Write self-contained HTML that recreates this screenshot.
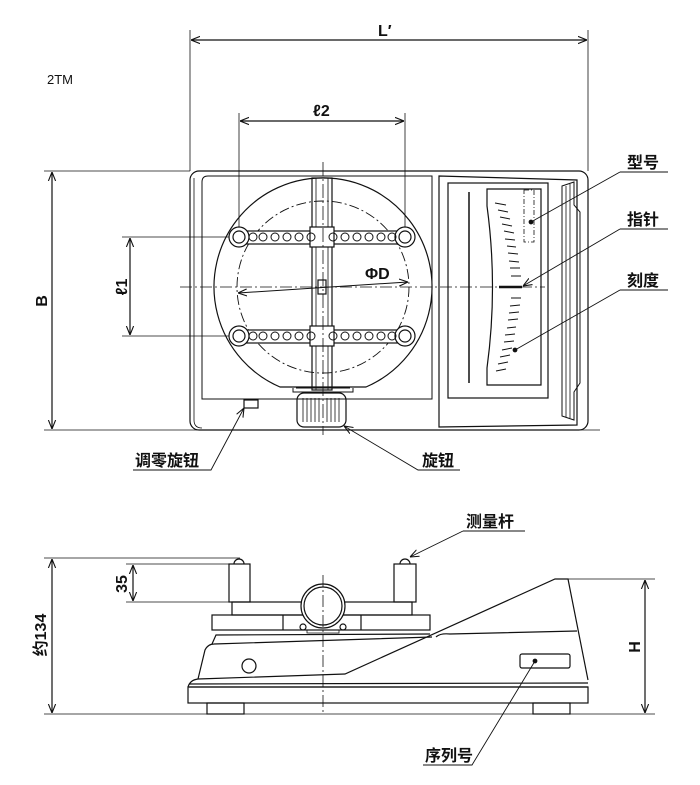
<!DOCTYPE html>
<html><head><meta charset="utf-8"><style>
html,body{margin:0;padding:0;background:#fff;}
svg{display:block}
text{font-family:"Liberation Sans","Noto Sans CJK SC",sans-serif;fill:#111}
.b{font-weight:bold;font-size:16px}
</style></head><body>
<svg width="700" height="785" viewBox="0 0 700 785" xmlns="http://www.w3.org/2000/svg">
<defs>
<marker id="a" viewBox="0 0 10 10" refX="10" refY="5" markerWidth="9" markerHeight="9" orient="auto-start-reverse" markerUnits="userSpaceOnUse"><path d="M0,1 L10,5 L0,9" fill="none" stroke="#111" stroke-width="1.2"/></marker>
</defs>
<g stroke="#111" fill="none" stroke-width="1.2">
<line x1="190" y1="30" x2="190" y2="171" stroke-width="0.8"/>
<line x1="588" y1="30" x2="588" y2="171" stroke-width="0.8"/>
<line x1="191" y1="40" x2="587" y2="40" marker-start="url(#a)" marker-end="url(#a)"/>
<line x1="239" y1="113" x2="239" y2="237" stroke-width="0.8"/>
<line x1="405" y1="113" x2="405" y2="237" stroke-width="0.8"/>
<line x1="240" y1="121" x2="404" y2="121" marker-start="url(#a)" marker-end="url(#a)"/>
<line x1="44" y1="171" x2="190" y2="171" stroke-width="0.8"/>
<line x1="44" y1="430" x2="600" y2="430" stroke-width="0.8"/>
<line x1="52" y1="172" x2="52" y2="429" marker-start="url(#a)" marker-end="url(#a)"/>
<line x1="122" y1="237" x2="239" y2="237" stroke-width="0.8"/>
<line x1="122" y1="336" x2="239" y2="336" stroke-width="0.8"/>
<line x1="130" y1="238" x2="130" y2="335" marker-start="url(#a)" marker-end="url(#a)"/>
<rect x="190" y="171" width="398" height="259" rx="9"/>
<path d="M202,399 L202,182 Q202,176 208,176 L432,176 L432,399 Z" stroke-width="1"/>
<path d="M194,178 L194,420 Q194,428 202,428" stroke-width="0.8"/>
<rect x="244" y="400" width="14" height="8"/>
<path d="M280,387 A109,109 0 1 1 366,387 Z"/>
<circle cx="323" cy="287" r="86" stroke-dasharray="10,3,2,3" stroke-width="0.9"/>
<rect x="312" y="178" width="20" height="212"/>
<line x1="316" y1="178" x2="316" y2="390" stroke-width="0.8"/>
<line x1="328" y1="178" x2="328" y2="390" stroke-width="0.8"/>
<rect x="318" y="280" width="8" height="14"/>
<g>
<rect x="239" y="231" width="166" height="13" fill="#fff"/>
<rect x="310" y="227" width="24" height="20" fill="#fff"/>
<rect x="239" y="330" width="166" height="13" fill="#fff"/>
<rect x="310" y="326" width="24" height="20" fill="#fff"/>
<circle cx="239" cy="237" r="10" fill="#fff"/><circle cx="239" cy="237" r="6"/>
<circle cx="405" cy="237" r="10" fill="#fff"/><circle cx="405" cy="237" r="6"/>
<circle cx="239" cy="336" r="10" fill="#fff"/><circle cx="239" cy="336" r="6"/>
<circle cx="405" cy="336" r="10" fill="#fff"/><circle cx="405" cy="336" r="6"/>
<g stroke-width="1">
<circle cx="253" cy="237" r="4"/><circle cx="263" cy="237" r="4"/><circle cx="275" cy="237" r="4"/><circle cx="287" cy="237" r="4"/><circle cx="299" cy="237" r="4"/><circle cx="311" cy="237" r="4"/>
<circle cx="333" cy="237" r="4"/><circle cx="345" cy="237" r="4"/><circle cx="357" cy="237" r="4"/><circle cx="369" cy="237" r="4"/><circle cx="381" cy="237" r="4"/><circle cx="392" cy="237" r="4"/>
<circle cx="253" cy="336" r="4"/><circle cx="263" cy="336" r="4"/><circle cx="275" cy="336" r="4"/><circle cx="287" cy="336" r="4"/><circle cx="299" cy="336" r="4"/><circle cx="311" cy="336" r="4"/>
<circle cx="333" cy="336" r="4"/><circle cx="345" cy="336" r="4"/><circle cx="357" cy="336" r="4"/><circle cx="369" cy="336" r="4"/><circle cx="381" cy="336" r="4"/><circle cx="392" cy="336" r="4"/>
</g>
</g>
<line x1="180" y1="287" x2="545" y2="287" stroke-width="0.8" stroke-dasharray="12,3,2,3"/>
<line x1="323" y1="162" x2="323" y2="435" stroke-width="0.8" stroke-dasharray="14,3,2,3"/>
<line x1="238" y1="293" x2="408" y2="282" stroke-width="1" marker-start="url(#a)" marker-end="url(#a)"/>
<path d="M296,388 L350,388 M293,388 L293,392 L353,392 L353,388" stroke-width="1"/>
<rect x="297" y="393" width="49" height="34" rx="7"/>
<g stroke-width="0.8"><line x1="303" y1="398" x2="303" y2="422"/><line x1="307" y1="398" x2="307" y2="422"/><line x1="311" y1="398" x2="311" y2="422"/><line x1="315" y1="398" x2="315" y2="422"/><line x1="319" y1="398" x2="319" y2="422"/><line x1="327" y1="398" x2="327" y2="422"/><line x1="331" y1="398" x2="331" y2="422"/><line x1="335" y1="398" x2="335" y2="422"/><line x1="339" y1="398" x2="339" y2="422"/></g>
<path d="M439,176 L577,180 L577,425 L439,427 Z"/>
<rect x="448" y="183" width="100" height="215"/>
<line x1="469" y1="192" x2="469" y2="383" stroke-width="1.5"/>
<path d="M487,189 L541,189 L541,385 L487,385 L487,368 Q498,287 487,206 Z"/>
<rect x="524" y="190" width="10" height="52" stroke-dasharray="5,2,1,2" stroke-width="0.8"/>
<g stroke-width="1">
<line x1="495" y1="203" x2="506" y2="205"/><line x1="498" y1="210" x2="508" y2="212"/><line x1="500" y1="217" x2="510" y2="219"/><line x1="502" y1="224" x2="512" y2="226"/><line x1="504" y1="231" x2="514" y2="233"/><line x1="505" y1="239" x2="515" y2="240"/><line x1="507" y1="246" x2="516" y2="247"/><line x1="508" y1="253" x2="518" y2="254"/><line x1="509" y1="261" x2="519" y2="262"/><line x1="510" y1="268" x2="520" y2="268"/><line x1="511" y1="276" x2="521" y2="276"/>
<line x1="511" y1="298" x2="521" y2="298"/><line x1="510" y1="306" x2="520" y2="305"/><line x1="509" y1="313" x2="519" y2="312"/><line x1="508" y1="320" x2="518" y2="319"/><line x1="507" y1="328" x2="516" y2="327"/><line x1="505" y1="335" x2="515" y2="334"/><line x1="504" y1="342" x2="514" y2="341"/><line x1="502" y1="350" x2="512" y2="348"/><line x1="500" y1="357" x2="510" y2="355"/><line x1="498" y1="364" x2="508" y2="362"/><line x1="496" y1="371" x2="506" y2="369"/>
</g>
<line x1="499" y1="287" x2="522" y2="287" stroke-width="2.5"/>
<path d="M562,186 L574,182 L574,205 L580,212 L580,383 L574,392 L574,420 L562,416 Z" stroke-width="1"/>
<line x1="566" y1="186" x2="566" y2="417" stroke-width="0.8"/><line x1="570" y1="184" x2="570" y2="418" stroke-width="0.8"/>
<path d="M620,172 L668,172 M620,172 L531,222" stroke-width="0.9"/><circle cx="531" cy="222" r="1.8" fill="#111"/>
<path d="M620,229 L668,229 M620,229 L523,286" stroke-width="0.9" marker-end="url(#a)"/>
<path d="M620,290 L668,290 M620,290 L515,350" stroke-width="0.9"/><circle cx="515" cy="350" r="1.8" fill="#111"/>
<path d="M133,470 L211,470 L244,408" stroke-width="0.9" marker-end="url(#a)"/>
<path d="M460,470 L418,470 L344,426" stroke-width="0.9" marker-end="url(#a)"/>
<path d="M463,531 L525,531 M463,531 L410,557" stroke-width="0.9" marker-end="url(#a)"/>
<path d="M423,765 L472,765 L535,661" stroke-width="0.9"/><circle cx="535" cy="661" r="1.8" fill="#111"/>
<line x1="44" y1="558" x2="240" y2="558" stroke-width="0.8"/>
<line x1="44" y1="714" x2="655" y2="714" stroke-width="0.8"/>
<line x1="52" y1="559" x2="52" y2="713" marker-start="url(#a)" marker-end="url(#a)"/>
<line x1="126" y1="564" x2="229" y2="564" stroke-width="0.8"/>
<line x1="126" y1="602" x2="232" y2="602" stroke-width="0.8"/>
<line x1="133" y1="565" x2="133" y2="601" marker-start="url(#a)" marker-end="url(#a)"/>
<line x1="555" y1="579" x2="655" y2="579" stroke-width="0.8"/>
<line x1="645" y1="580" x2="645" y2="713" marker-start="url(#a)" marker-end="url(#a)"/>
<path d="M234,564 A5,5 0 0 1 244,564"/><rect x="229" y="564" width="21" height="38"/>
<path d="M400,564 A5,5 0 0 1 410,564"/><rect x="394" y="564" width="22" height="38"/>
<rect x="232" y="602" width="180" height="13"/>
<rect x="212" y="615" width="218" height="15"/>
<line x1="283" y1="615" x2="283" y2="630"/><line x1="361" y1="615" x2="361" y2="630"/>
<circle cx="323" cy="606" r="22" fill="#fff"/><circle cx="323" cy="606" r="19"/>
<circle cx="303" cy="627" r="3"/><circle cx="343" cy="627" r="3"/>
<path d="M307,630 L339,630 L339,633 L307,633 Z" stroke-width="0.8"/>
<path d="M212,644 L216,635 L430,634 M436,637 Q440,633 450,634 L577,631"/>
<path d="M198,679 L205,650 Q208,644 214,644 L432,637"/>
<path d="M188,687 Q190,680 198,679 L345,674 L555,579 L568,579 L588,680"/>
<path d="M189,684 L588,683 M189,687 L588,687"/>
<rect x="188" y="687" width="400" height="16"/>
<rect x="207" y="703" width="37" height="11"/><rect x="533" y="703" width="37" height="11"/>
<circle cx="249" cy="666" r="7"/>
<rect x="520" y="654" width="50" height="14" rx="2"/>
<line x1="323" y1="575" x2="323" y2="712" stroke-width="0.8" stroke-dasharray="12,3,2,3"/>
</g>
<text x="47" y="84" font-size="13">2TM</text>
<text x="378" y="36" class="b">L′</text>
<text x="313" y="116" class="b">ℓ2</text>
<text x="365" y="279" class="b">ΦD</text>
<text class="b" transform="translate(47,301) rotate(-90)" text-anchor="middle">B</text>
<text class="b" transform="translate(127,287) rotate(-90)" text-anchor="middle">ℓ1</text>
<text class="b" transform="translate(46,635) rotate(-90)" text-anchor="middle">约134</text>
<text class="b" transform="translate(127,584) rotate(-90)" text-anchor="middle">35</text>
<text class="b" transform="translate(640,647) rotate(-90)" text-anchor="middle">H</text>
<text x="627" y="168" class="b">型号</text>
<text x="627" y="225" class="b">指针</text>
<text x="627" y="286" class="b">刻度</text>
<text x="135" y="466" class="b">调零旋钮</text>
<text x="422" y="466" class="b">旋钮</text>
<text x="466" y="527" class="b">测量杆</text>
<text x="425" y="761" class="b">序列号</text>
</svg>
</body></html>
